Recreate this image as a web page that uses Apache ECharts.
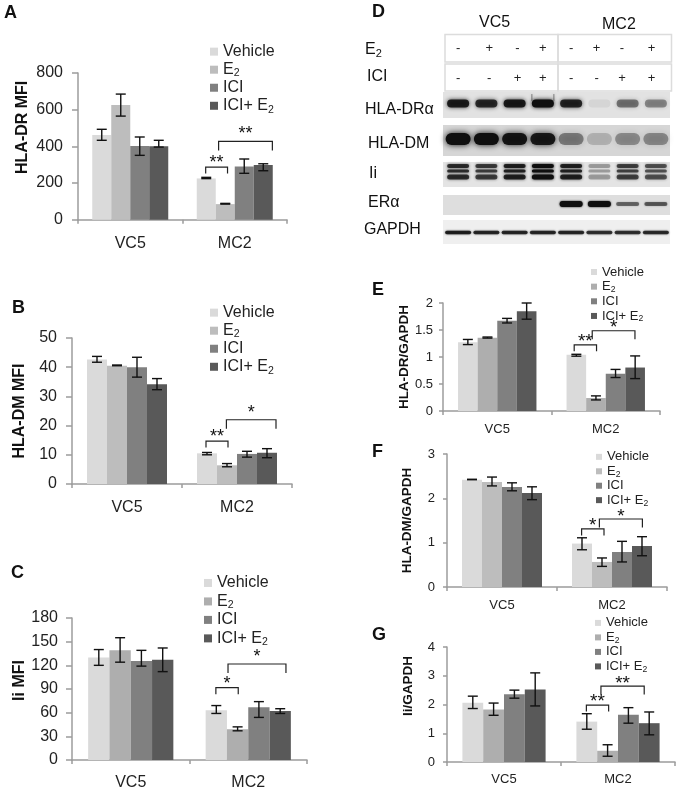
<!DOCTYPE html>
<html><head><meta charset="utf-8">
<style>html,body{margin:0;padding:0;background:#fff}#c{width:680px;height:791px}</style>
<script src="https://cdn.jsdelivr.net/npm/echarts@6/dist/echarts.min.js"></script>
</head><body><div id="c"></div>
<script>
const categories = ['VC5', 'MC2'];
const treatments = ['Vehicle', 'E2', 'ICI', 'ICI+ E2'];

// Panel means, one list per treatment [VC5, MC2]
const aVehicle = [462, 225], aE2 = [625, 85], aIci = [402, 290], aIciE2 = [400, 298];
const aLow  = [[433, 224], [565, 85], [351, 253], [396, 267]];
const aHigh = [[493, 231], [685, 89], [451, 331], [433, 305]];
const aBrackets = [[0.47, 1.62, 287, '**'], [1.15, 3.98, 427, '**']];
const aTicks = [0, 200, 400, 600, 800];

const bVehicle = [42.6, 10.5], bE2 = [40.5, 6.4], bIci = [40, 10.3], bIciE2 = [34.2, 10.7];
const bLow  = [[41.7, 10], [40.5, 5.9], [36.6, 9.2], [32.3, 9]];
const bHigh = [[43.7, 10.8], [40.75, 7], [43.4, 11.2], [36.1, 12.1]];
const bBrackets = [[0.45, 1.55, 14.7, '**'], [1.47, 3.95, 22, '*']];
const bTicks = [0, 10, 20, 30, 40, 50];

const cVehicle = [130, 63], cE2 = [139, 39], cIci = [125.5, 67], cIciE2 = [127, 62];
const cLow  = [[120, 59], [124, 37], [119, 54], [112, 59]];
const cHigh = [[140, 69], [155, 42], [139, 74], [142, 65]];
const cBrackets = [[0.48, 1.53, 91.7, '*'], [1.05, 3.77, 121.7, '*']];
const cTicks = [0, 30, 60, 90, 120, 150, 180];

const eVehicle = [1.275, 1.04], eE2 = [1.355, 0.24], eIci = [1.67, 0.69], eIciE2 = [1.845, 0.805];
const eLow  = [[1.23, 1.015], [1.35, 0.205], [1.63, 0.62], [1.70, 0.60]];
const eHigh = [[1.325, 1.05], [1.37, 0.28], [1.715, 0.77], [2.0, 1.02]];
const eBrackets = [[0.39, 1.53, 1.226, '**'], [1.31, 3.49, 1.486, '*']];
const eTicks = [0, 0.5, 1, 1.5, 2];

const fVehicle = [2.42, 0.98], fE2 = [2.37, 0.565], fIci = [2.255, 0.79], fIciE2 = [2.12, 0.925];
const fLow  = [[2.42, 0.84], [2.28, 0.465], [2.17, 0.565], [1.97, 0.705]];
const fHigh = [[2.43, 1.11], [2.48, 0.655], [2.35, 1.03], [2.26, 1.135]];
const fBrackets = [[0.48, 1.6, 1.31, '*'], [1.37, 3.52, 1.534, '*']];
const fTicks = [0, 1, 2, 3];

const gVehicle = [2.06, 1.405], gE2 = [1.83, 0.39], gIci = [2.36, 1.64], gIciE2 = [2.52, 1.35];
const gLow  = [[1.86, 1.14], [1.625, 0.2], [2.22, 1.35], [1.95, 0.945]];
const gHigh = [[2.29, 1.68], [2.05, 0.6], [2.5, 1.89], [3.1, 1.74]];
const gBrackets = [[0.48, 1.55, 1.98, '**'], [1.18, 3.26, 2.64, '**']];
const gTicks = [0, 1, 2, 3, 4];

// Western blot: band darkness per lane, 0..1 (panel D)
const signE2  = ['-', '+', '-', '+', '-', '+', '-', '+'];
const signIci = ['-', '-', '+', '+', '-', '-', '+', '+'];
const signPos = [0.5, 1.6, 2.6, 3.5, 4.5, 5.4, 6.3, 7.35];
const blotDR    = [0.9, 0.82, 0.92, 1, 0.85, 0.06, 0.48, 0.4];
const blotDM    = [1, 1, 0.95, 0.92, 0.42, 0.18, 0.35, 0.36];
const blotIi    = [0.78, 0.7, 0.85, 1, 0.85, 0.3, 0.68, 0.6];
const blotER    = [0, 0, 0, 0, 1, 1, 0.5, 0.55];
const blotGAPDH = [0.85, 0.8, 0.8, 0.8, 0.8, 0.75, 0.75, 0.78];

const FONT = 'Liberation Sans';
const axisGrey = '#9c9c9c';
const C1 = '#dadada', C3 = '#808080', C4 = '#595959';

const panels = [
 {vals:[aVehicle,aE2,aIci,aIciE2],low:aLow,high:aHigh,br:aBrackets,ticks:aTicks,name:'HLA-DR MFI',
  box:[78,73,209,146.7],barW:19,e2:'#bdbdbd',fs:16,nameFs:16,nameGap:47,nameShift:38,tm:15,xm:16,tick:6,
  leg:[210,43,17.3,16]},
 {vals:[bVehicle,bE2,bIci,bIciE2],low:bLow,high:bHigh,br:bBrackets,ticks:bTicks,name:'HLA-DM MFI',
  box:[72,338,220,146],barW:20,e2:'#bdbdbd',fs:16,nameFs:16,nameGap:44,nameShift:0,tm:15,xm:16,tick:6,
  leg:[210,304,17.3,16]},
 {vals:[cVehicle,cE2,cIci,cIciE2],low:cLow,high:cHigh,br:cBrackets,ticks:cTicks,name:'Ii MFI',
  box:[72,618,235,142],barW:21.3,e2:'#aeaeae',fs:16,nameFs:16,nameGap:44,nameShift:17,tm:14,xm:15,tick:6,
  leg:[204,574,17.9,16]},
 {vals:[eVehicle,eE2,eIci,eIciE2],low:eLow,high:eHigh,br:eBrackets,ticks:eTicks,name:'HLA-DR/GAPDH',
  box:[443,303,217,108],barW:19.6,e2:'#aeaeae',fs:13,nameFs:13.5,nameGap:32,nameShift:0,tm:10,xm:12,tick:4,
  leg:[591,265,14,13]},
 {vals:[fVehicle,fE2,fIci,fIciE2],low:fLow,high:fHigh,br:fBrackets,ticks:fTicks,name:'HLA-DM/GAPDH',
  box:[447,454,220,133],barW:20,e2:'#bdbdbd',fs:13,nameFs:13.5,nameGap:33,nameShift:0,tm:12,xm:12,tick:4,
  leg:[596,450,13.7,13]},
 {vals:[gVehicle,gE2,gIci,gIciE2],low:gLow,high:gHigh,br:gBrackets,ticks:gTicks,name:'Ii/GAPDH',
  box:[447,647,228,115],barW:20.8,e2:'#aeaeae',fs:13,nameFs:13.5,nameGap:32,nameShift:37,tm:12,xm:11,tick:4,
  leg:[595,616,13.8,13]}
];

const grid = [], xAxis = [], yAxis = [], series = [], legend = [];
panels.forEach((p, pi) => {
  const [l, t, w, h] = p.box;
  const colors = [C1, p.e2, C3, C4];
  grid.push({left:l, top:t, width:w, height:h});
  xAxis.push({type:'category', gridIndex:pi, data:categories,
    axisLine:{lineStyle:{color:axisGrey,width:1.5}},
    axisTick:{show:true,length:4,lineStyle:{color:axisGrey,width:1.5}},
    axisLabel:{fontFamily:FONT,fontSize:p.fs,color:'#222',margin:p.xm}});
  yAxis.push({type:'value', gridIndex:pi, min:p.ticks[0], max:p.ticks[p.ticks.length-1],
    interval:p.ticks[1]-p.ticks[0],
    name:p.name, nameLocation:'middle', nameGap:p.nameGap, nameRotate:90,
    nameTextStyle:{fontFamily:FONT,fontWeight:'bold',fontSize:p.nameFs,color:'#111',padding:[0,0,0,p.nameShift]},
    splitLine:{show:false},
    axisLine:{show:true,lineStyle:{color:axisGrey,width:1.5}},
    axisTick:{show:true,length:p.tick,lineStyle:{color:axisGrey,width:1.5}},
    axisLabel:{fontFamily:FONT,fontSize:p.fs,color:'#222',margin:p.tm}});
  treatments.forEach((n, i) => series.push({type:'bar', name:n, xAxisIndex:pi, yAxisIndex:pi,
    data:p.vals[i], barWidth:p.barW, barGap:0, itemStyle:{color:colors[i]}, silent:true}));
  // error bars
  const errData = [];
  treatments.forEach((n, i) => categories.forEach((c, k) => errData.push([k, i, p.low[i][k], p.high[i][k]])));
  series.push({type:'custom', name:'err'+pi, xAxisIndex:pi, yAxisIndex:pi, silent:true, z:5, clip:false,
    data:errData, encode:{x:0,y:[2,3]},
    renderItem(params, api){
      const cat = api.value(0), bar = api.value(1);
      const dx = (bar-1.5)*p.barW;
      const a = api.coord([cat, api.value(2)]), b = api.coord([cat, api.value(3)]);
      const x = a[0]+dx, cap = 5;
      const st = {stroke:'#111', lineWidth:1.4, fill:null};
      return {type:'group', children:[
        {type:'line', shape:{x1:x,y1:a[1],x2:x,y2:b[1]}, style:st},
        {type:'line', shape:{x1:x-cap,y1:a[1],x2:x+cap,y2:a[1]}, style:st},
        {type:'line', shape:{x1:x-cap,y1:b[1],x2:x+cap,y2:b[1]}, style:st}]};
    }});
  // significance brackets over the MC2 group; from/to count in bar widths from the group's left edge
  series.push({type:'custom', name:'sig'+pi, xAxisIndex:pi, yAxisIndex:pi, silent:true, z:6, clip:false,
    data:p.br.map((b, i) => [1, b[0], b[1], b[2], i]), encode:{x:0,y:3},
    renderItem(params, api){
      const c = api.coord([1, api.value(3)]);
      const left = c[0]-2*p.barW;
      const x1 = left+api.value(1)*p.barW, x2 = left+api.value(2)*p.barW;
      const y = c[1], wide = api.value(4)===1, drop = wide?(pi<3?9:8.5):6.5;
      const label = p.br[params.dataIndex][3];
      return {type:'group', children:[
        {type:'polyline', shape:{points:[[x1,y+drop],[x1,y],[x2,y],[x2,y+drop]]}, style:{stroke:'#222',lineWidth:1.2,fill:null}},
        {type:'text', x:(x1+x2)/2, y:y+(pi<3?(wide?-3:0):(wide?2:1))+5, style:{text:label, fontFamily:FONT, fontSize:pi<3?18:19, fill:'#111',
          align:'center', verticalAlign:'bottom'}}]};
    }});
  const [lx, ly, step, fs] = p.leg;
  const sw = pi<3?8:6;
  legend.push({left:lx, top:ly, orient:'vertical', padding:0, itemGap:0, itemWidth:sw, itemHeight:sw, icon:'rect',
    selectedMode:false,
    data:treatments.map((n, i) => ({name:n, itemStyle:{color:colors[i]}})),
    formatter:n => n.replace(/E2/, 'E{s|2}'),
    textStyle:{fontFamily:FONT, fontSize:fs, color:'#222', lineHeight:step, height:step,
      rich:{s:{fontFamily:FONT, fontSize:fs*0.66, color:'#222', lineHeight:step, padding:[step*0.45,0,0,0]}}}});
});

// Panel D blot lanes on a hidden axis pair
const blotIndex = panels.length;
grid.push({left:444, top:30, width:226, height:220});
xAxis.push({type:'value', gridIndex:blotIndex, min:0, max:8, show:false});
yAxis.push({type:'value', gridIndex:blotIndex, min:0, max:1, show:false});

const bandRows = [
 {d:blotDR, parts:[[103.5,8,22]], blur:4, wing:true},
 {d:blotDM, parts:[[139,12,25]], blur:6},
 {d:blotIi, parts:[[166,4,22],[171,3,22],[177,5,22]], blur:3},
 {d:blotER, parts:[[204,6,23]], blur:2, thin:true},
 {d:blotGAPDH, parts:[[232.5,3.5,26]], blur:2}
];
const bandData = [];
bandRows.forEach((r, ri) => r.d.forEach((v, lane) => bandData.push([lane+0.5, ri, v])));
series.push({type:'custom', name:'bands', xAxisIndex:blotIndex, yAxisIndex:blotIndex, silent:true, z:3, clip:false,
  data:bandData, encode:{x:0},
  renderItem(params, api){
    const x = api.coord([api.value(0), 0])[0], row = bandRows[api.value(1)], v = api.value(2);
    if (v <= 0) return {type:'group', children:[]};
    const col = `rgba(15,15,15,${v})`;
    const kids = row.parts.map(([y, h0, w]) => {
      const h = row.thin ? h0*(0.3+0.7*v) : h0;
      return {type:'rect',
        shape:{x:x-w/2, y:y-h/2, width:w, height:h, r:h/2},
        style:{fill:col, shadowBlur:row.blur, shadowColor:col}};
    });
    if (row.wing && v > 0.95) [-1, 1].forEach(s => kids.push({type:'rect',
      shape:{x:x+s*11-0.5, y:94, width:1, height:7, r:0.5},
      style:{fill:`rgba(30,30,30,${v*0.5})`, shadowBlur:3, shadowColor:'rgba(30,30,30,0.4)'}}));
    return {type:'group', children:kids};
  }});
[[signE2, 48], [signIci, 78]].forEach(([signs, y], si) => series.push({type:'custom', name:'signs'+si,
  xAxisIndex:blotIndex, yAxisIndex:blotIndex, silent:true, z:4, clip:false,
  data:signs.map((s, i) => [signPos[i], s]), encode:{x:0},
  renderItem(params, api){
    const x = api.coord([signPos[params.dataIndex], 0])[0];
    return {type:'text', x, y, style:{text:signs[params.dataIndex], fontFamily:FONT, fontSize:13, fill:'#222', align:'center', verticalAlign:'middle'}};
  }}));

const txt = (text, x, y, size, weight, extra) => ({type:'text', x, y, z:10, silent:true,
  style:Object.assign({text, fontFamily:FONT, fontSize:size, fontWeight:weight||'normal', fill:'#111', verticalAlign:'middle'}, extra||{})});
const strip = (y, h, fill) => ({type:'rect', z:0, silent:true, shape:{x:443,y,width:227,height:h}, style:{fill}});
const box = (x, y, w, h) => ({type:'rect', z:1, silent:true, shape:{x,y,width:w,height:h}, style:{fill:null,stroke:'#dcdcdc',lineWidth:1.5}});

const graphic = [
  txt('A', 4, 13, 18, 'bold'), txt('B', 12, 308, 18, 'bold'), txt('C', 11, 573, 18, 'bold'),
  txt('D', 372, 12, 18, 'bold'), txt('E', 372, 290, 18, 'bold'), txt('F', 372, 452, 18, 'bold'), txt('G', 372, 635, 18, 'bold'),
  txt('VC5', 479, 23, 16), txt('MC2', 602, 25, 16),
  txt('E{s|2}', 365, 50, 16, 'normal', {rich:{s:{fontFamily:FONT,fontSize:11,fill:'#111',padding:[8,0,0,0]}}}),
  txt('ICI', 367, 77, 16), txt('HLA-DRα', 365, 110, 16), txt('HLA-DM', 368, 144, 16),
  txt('Ii', 369, 174, 16), txt('ERα', 368, 203, 16), txt('GAPDH', 364, 230, 16),
  box(445, 34.5, 113, 27.5), box(558, 34.5, 113.5, 27.5), box(445, 64, 113, 27), box(558, 64, 113.5, 27),
  strip(92, 26, '#e2e2e2'), strip(125, 31, '#d6d6d6'), strip(162, 25, '#e4e4e4'), strip(195, 20, '#dedede'), strip(220, 24, '#efefef')
];

const chart = echarts.init(document.getElementById('c'), null, {renderer:'canvas'});
chart.setOption({animation:false, backgroundColor:'#fff', grid, xAxis, yAxis, series, legend, graphic});
</script></body></html>
